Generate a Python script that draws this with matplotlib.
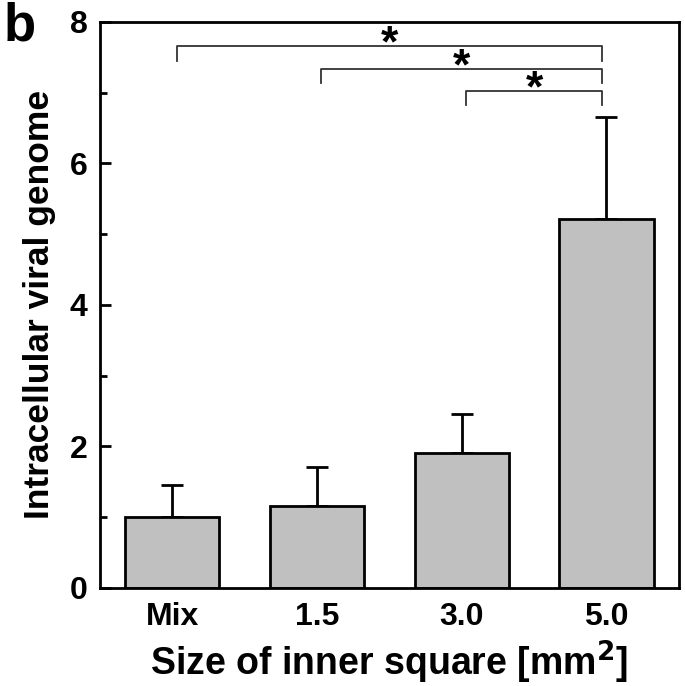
import numpy as np
import matplotlib.pyplot as plt

plt.rcParams['font.family'] = ['Liberation Sans', 'DejaVu Sans']
plt.rcParams['font.weight'] = 'bold'

# datos
categorias = ["Mix", "1.5", "3.0", "5.0"]
valores = [1.00, 1.16, 1.91, 5.21]
error_sup = [0.46, 0.55, 0.55, 1.45]

# comparaciones significativas (i, j, altura)
comparaciones = [(0, 3, 7.66), (1, 3, 7.34), (2, 3, 7.03)]
etiquetas_sig = ["*", "*", "*"]

fig = plt.figure(figsize=(6.85, 6.86), dpi=100)
ax = fig.add_axes([0.146, 0.143, 0.845, 0.825])

x = np.arange(len(categorias))
ax.bar(x, valores, width=0.65, color="#c0c0c0", edgecolor="black", linewidth=2, zorder=2)
ax.errorbar(x, valores, yerr=[np.zeros(len(valores)), error_sup], fmt="none",
            ecolor="black", elinewidth=2, capsize=8, capthick=2, zorder=1)

for (i, j, h), txt in zip(comparaciones, etiquetas_sig):
    ax.plot([x[i] + 0.03, x[i] + 0.03, x[j] - 0.03, x[j] - 0.03],
            [h - 0.21, h, h, h - 0.21], color="#333333", lw=1.3)
    # el asterisco queda alto en la fuente, se baja la linea base
    ax.text((x[i] + x[j]) / 2, h - 0.15, txt, ha="center", va="baseline",
            fontsize=32, fontweight="bold")

ax.set_xlim(-0.5, 3.5)
ax.set_ylim(0, 8)
ax.set_yticks([0, 2, 4, 6, 8])
ax.set_yticks([1, 3, 5, 7], minor=True)
ax.set_xticks(x)
ax.set_xticklabels(categorias)
ax.tick_params(axis="y", which="major", direction="in", length=8, width=2, labelsize=23, pad=9)
ax.tick_params(axis="y", which="minor", direction="in", length=5, width=2)
ax.tick_params(axis="x", length=0, labelsize=23, pad=10)
for s in ax.spines.values():
    s.set_linewidth(2)

ax.set_ylabel("Intracellular viral genome", fontsize=25.5, fontweight="bold", labelpad=10)
ax.set_xlabel("Size of inner square [mm$^\\mathbf{2}$]", fontsize=27, fontweight="bold", labelpad=5)

fig.text(0.005, 0.998, "b", fontsize=38, fontweight="bold", ha="left", va="top")

fig.savefig("out.png", dpi=100)
